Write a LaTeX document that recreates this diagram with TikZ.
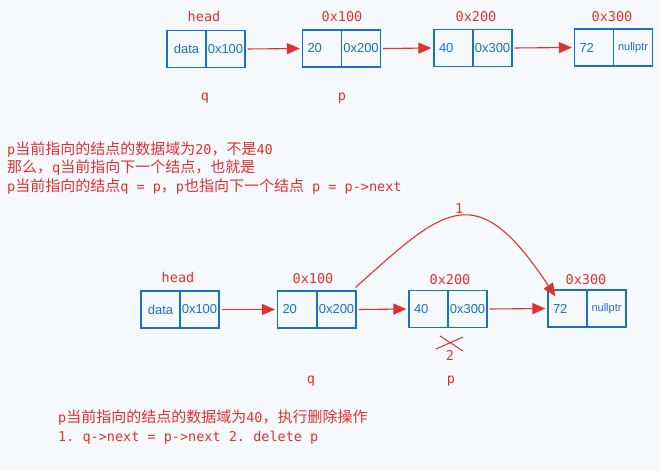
\documentclass[tikz,border=0pt]{standalone}
\usepackage{fontspec}
\setmonofont{DejaVu Sans Mono}
\newfontfamily\cjk{Noto Sans CJK SC}
\newfontfamily\hand{Liberation Sans}
\usetikzlibrary{arrows.meta}

\definecolor{bgc}{RGB}{245,249,252}
\definecolor{boxblue}{RGB}{25,113,194}
\definecolor{txtred}{RGB}{224,49,49}

\newcommand{\m}[1]{{\fontsize{13.5}{19}\selectfont\ttfamily #1}}

\tikzset{
  cell/.style={draw=boxblue, line width=1.2pt, minimum width=39pt, minimum height=37pt,
    inner sep=0pt, text=boxblue, font=\hand\fontsize{13}{13}\selectfont},
  num/.style={text width=29pt, align=left},
  lbl/.style={text=txtred, inner sep=0pt, font=\ttfamily\fontsize{13.5}{14}\selectfont},
  note/.style={text=txtred, inner sep=0pt, anchor=base west, font=\cjk\fontsize{15}{19}\selectfont},
  link/.style={draw=txtred, line width=1.1pt, shorten <=2pt, shorten >=2pt,
    -{Triangle[length=13pt,width=11pt]}},
}

\begin{document}
\begin{tikzpicture}[x=1pt, y=-1pt]
  \fill[bgc] (0,0) rectangle (660,471);
  \useasboundingbox (0,0) rectangle (660,471);

  % Top row: the list before the step
  \node[cell] (t0a) at (186.5,49) {data};
  \node[cell] (t0b) at (225.5,49) {0x100};
  \node[cell, num] (t1a) at (322,48.5) {20};
  \node[cell] (t1b) at (361,48.5) {0x200};
  \node[cell, num] (t2a) at (453.5,48) {40};
  \node[cell] (t2b) at (492.5,48) {0x300};
  \node[cell, num] (t3a) at (594,47.5) {72};
  \node[cell, font=\hand\fontsize{11}{11}\selectfont] (t3b) at (633,47.5) {nullptr};

  \draw[link] (t0b.east) -- (t1a.west);
  \draw[link] (t1b.east) -- (t2a.west);
  \draw[link] (t2b.east) -- (t3a.west);

  \node[lbl] (thead) at (204,16) {head};
  \node[lbl] (tadr1) at (342,17) {0x100};
  \node[lbl] (tadr2) at (476,17) {0x200};
  \node[lbl] (tadr3) at (612,17) {0x300};
  \node[lbl] (tq) at (205,98) {q};
  \node[lbl] (tp) at (342,98) {p};

  % Notes for the first step
  \node[note] (note1) at (7,154.5) {\m{p}当前指向的结点的数据域为\m{20}，不是\m{40}};
  \node[note] (note2) at (7,172.5) {那么，\m{q}当前指向下一个结点，也就是};
  \node[note] (note3) at (7,191.5) {\m{p}当前指向的结点\m{q = p}，\m{p}也指向下一个结点\m{ p = p->next}};

  % Bottom row: deleting p
  \node[cell] (b0a) at (160.5,309.5) {data};
  \node[cell] (b0b) at (199.5,309.5) {0x100};
  \node[cell, num] (b1a) at (297,309.5) {20};
  \node[cell] (b1b) at (336.5,309.5) {0x200};
  \node[cell, num] (b2a) at (428.5,309) {40};
  \node[cell] (b2b) at (467.5,309) {0x300};
  \node[cell, num] (b3a) at (567.5,308.5) {72};
  \node[cell, font=\hand\fontsize{11}{11}\selectfont] (b3b) at (606.5,308.5) {nullptr};

  \draw[link] (b0b.east) -- (b1a.west);
  \draw[link] (b1b.east) -- (b2a.west);
  \draw[link] (b2b.east) -- (b3a.west);

  % step 1: q->next jumps over p
  \draw[link, shorten <=0pt, shorten >=0pt] ([xshift=-1pt,yshift=3pt]b1b.north east)
    .. controls (445,207) and (476,176) .. ([xshift=8pt,yshift=-7pt]b3a.north west)
    node[pos=0.5, above=3pt, lbl] (one) {1};

  % step 2: p is deleted
  \draw[txtred, line width=1pt] (436,349) -- (463,337) (440,336) -- (463,351);
  \node[lbl] (two) at (450,355) {2};

  \node[lbl] (bhead) at (178,277) {head};
  \node[lbl] (badr1) at (313,279) {0x100};
  \node[lbl] (badr2) at (450,280) {0x200};
  \node[lbl] (badr3) at (586,280) {0x300};
  \node[lbl] (bq) at (311,381) {q};
  \node[lbl] (bp) at (451,381) {p};

  \node[note] (note4) at (58,422.5) {\m{p}当前指向的结点的数据域为\m{40}，执行删除操作};
  \node[note] (note5) at (58,441) {\m{1. q->next = p->next 2. delete p}};
\end{tikzpicture}
\end{document}
